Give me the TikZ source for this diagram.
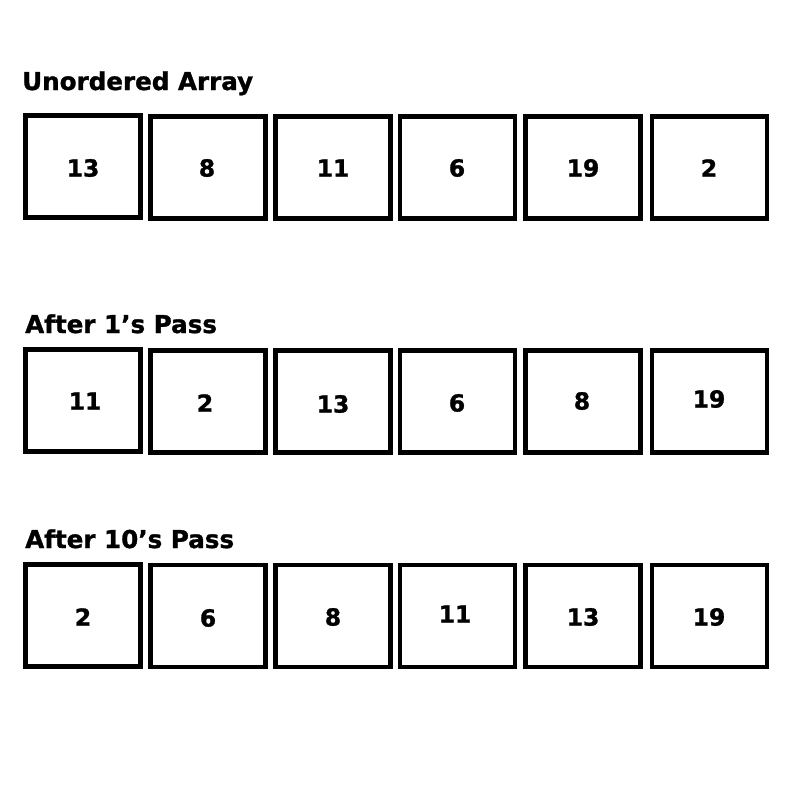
\documentclass[tikz,border=0pt]{standalone}
\usepackage{fontspec}
\setmainfont{DejaVu Sans}[BoldFeatures={FakeBold=1.2}]
\begin{document}
\begin{tikzpicture}[x=1pt,y=-1pt,
  cell/.style={draw=black,line width=4.5pt,minimum width=115pt,minimum height=102pt,inner sep=0pt,fill=white},
  num/.style={font=\fontsize{23.5}{23.5}\selectfont\bfseries,inner sep=0pt},
  title/.style={font=\fontsize{24.6}{24.6}\selectfont\bfseries,anchor=base west,inner sep=0pt}]
\useasboundingbox (0,0) rectangle (800,800);
\fill[white] (0,0) rectangle (800,800);
% titles
\node[title] (t1) at (22,90) {Unordered Array};
\node[title] (t2) at (25,333) {After 1’s Pass};
\node[title] (t3) at (25,548) {After 10’s Pass};
% row 1
\node[cell] (a1) at (83,166.5) {};
\node[cell] (a2) at (208,167.5) {};
\node[cell] (a3) at (333,167.5) {};
\node[cell] (a4) at (457.5,167.5) {};
\node[cell] (a5) at (583,167.5) {};
\node[cell] (a6) at (709.5,167.5) {};
\node[num] (na1) at (83,168) {13};
\node[num] (na2) at (207,168) {8};
\node[num] (na3) at (333,168) {11};
\node[num] (na4) at (457,168) {6};
\node[num] (na5) at (583,168) {19};
\node[num] (na6) at (709,168) {2};
% row 2
\node[cell] (b1) at (83,400.5) {};
\node[cell] (b2) at (208,401.5) {};
\node[cell] (b3) at (333,401.5) {};
\node[cell] (b4) at (457.5,401.5) {};
\node[cell] (b5) at (583,401.5) {};
\node[cell] (b6) at (709.5,401.5) {};
\node[num] (nb1) at (85,401) {11};
\node[num] (nb2) at (205,403) {2};
\node[num] (nb3) at (333,404) {13};
\node[num] (nb4) at (457,403) {6};
\node[num] (nb5) at (582,401) {8};
\node[num] (nb6) at (709,399) {19};
% row 3
\node[cell] (c1) at (83,615.5) {};
\node[cell] (c2) at (208,616) {};
\node[cell] (c3) at (333,616) {};
\node[cell] (c4) at (457.5,616) {};
\node[cell] (c5) at (583,616) {};
\node[cell] (c6) at (709.5,616) {};
\node[num] (nc1) at (83,617) {2};
\node[num] (nc2) at (208,618) {6};
\node[num] (nc3) at (333,617) {8};
\node[num] (nc4) at (455,614) {11};
\node[num] (nc5) at (583,617) {13};
\node[num] (nc6) at (709,617) {19};
\end{tikzpicture}
\end{document}
